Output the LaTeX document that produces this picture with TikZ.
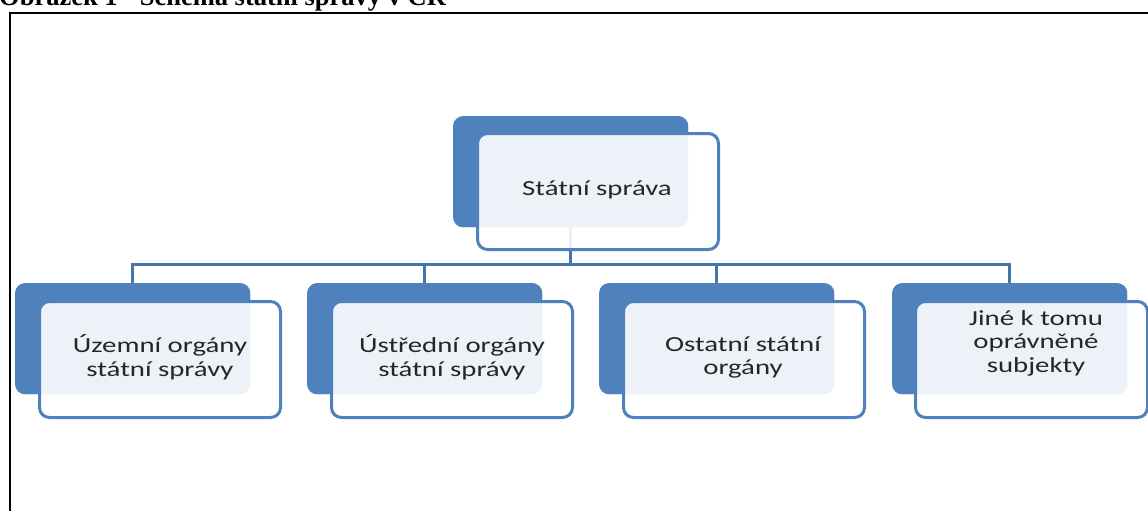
\documentclass[tikz,border=0pt]{standalone}
\usepackage{fontspec}
\newfontfamily\cf[FakeStretch=1.34]{Carlito}
\newfontfamily\tnr{Liberation Serif}
\definecolor{accent}{RGB}{79,129,189}
\definecolor{linkc}{RGB}{70,116,172}
\begin{document}
\begin{tikzpicture}[x=1pt,y=-1pt,
  back/.style={fill=accent, rounded corners=10pt, minimum width=235pt, minimum height=111pt, anchor=north west, inner sep=0pt},
  front/.style={draw=accent, line width=3pt, fill=white, fill opacity=0.9, rounded corners=10pt, minimum width=241pt, minimum height=116pt, anchor=north west, inner sep=0pt},
  link/.style={draw=linkc, line width=3.5pt},
  lbl/.style={font=\cf\fontsize{21.5}{23.5}\selectfont, align=center, text=black!85, inner sep=0pt}]
\useasboundingbox (0,0) rectangle (1148,511);
\clip (0,0) rectangle (1148,511);

% frame and title
\draw[line width=2.2pt] (9.7,512) -- (9.7,13) -- (1150,13);
\node[anchor=base west, font=\tnr\bfseries\fontsize{26.5}{28}\selectfont, inner sep=0pt] (title) at (-1,6) {Obrázek 1 - Schéma státní správy v ČR};

% back boxes
\node[back] (b0) at (453,116) {};
\node[back] (b1) at (15,283) {};
\node[back] (b2) at (307,283) {};
\node[back] (b3) at (599,283) {};
\node[back] (b4) at (892,283) {};

% connectors
\foreach \k in {1,2,3,4}{
  \draw[link] (b0.south) -- ++(0,37) -| (b\k.north);
}

% redraw back boxes above connectors
\node[back] at (453,116) {};
\node[back] at (15,283) {};
\node[back] at (307,283) {};
\node[back] at (599,283) {};
\node[back] at (892,283) {};

% front boxes
\node[front] (f0) at (476,132) {};
\node[front] (f1) at (38,300) {};
\node[front] (f2) at (330,300) {};
\node[front] (f3) at (622,300) {};
\node[front, minimum width=232pt] (f4) at (914,300) {};

% labels
\node[lbl] (t0) at (597,190) {Státní správa};
\node[lbl] (t1) at (160,357.5) {Územní orgány\\státní správy};
\node[lbl] (t2) at (452,357.5) {Ústřední orgány\\státní správy};
\node[lbl] (t3) at (743,357.5) {Ostatní státní\\orgány};
\node[lbl] (t4) at (1036,343) {Jiné k tomu\\oprávněné\\subjekty};
\end{tikzpicture}
\end{document}
